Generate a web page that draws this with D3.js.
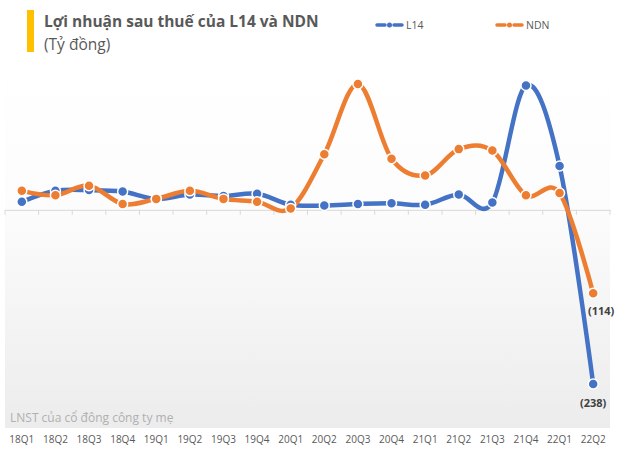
<!DOCTYPE html>
<html><head><meta charset="utf-8">
<script src="https://cdn.jsdelivr.net/npm/d3@7"></script>
<style>body{margin:0;background:#fff}svg{display:block}</style>
</head><body>
<svg id="c" width="630" height="468"></svg>
<script>
const categories = ["18Q1","18Q2","18Q3","18Q4","19Q1","19Q2","19Q3","19Q4","20Q1","20Q2","20Q3","20Q4","21Q1","21Q2","21Q3","21Q4","22Q1","22Q2"];
const l14 = [11,26,27,25,15,21,19,22,7,6,8,9,7,21,10,170,60,-238];
const ndn = [26,20,33,8,15,26,15,11,2,76,172,70,47,83,81,20,23,-114];
const seriesNames = ["L14","NDN"];
const colors = ["#4472C4","#ED7D31"];

const svg = d3.select("#c");
const W=630,H=468;
const plot = {left:5,right:610,top:60,bottom:428};

const defs = svg.append("defs");
const g = defs.append("linearGradient").attr("id","bg").attr("x1",0).attr("y1",0).attr("x2",0).attr("y2",1);
g.append("stop").attr("offset","0%").attr("stop-color","#ffffff");
g.append("stop").attr("offset","40%").attr("stop-color","#fcfcfc");
g.append("stop").attr("offset","100%").attr("stop-color","#ececec");
svg.append("rect").attr("x",plot.left).attr("y",plot.top).attr("width",plot.right-plot.left).attr("height",plot.bottom-plot.top).attr("fill","url(#bg)");

const x = d3.scaleBand().domain(categories).range([plot.left,plot.right]).padding(0);
const y = d3.scaleLinear().domain([-238,172]).range([384,84]);

// zero axis
const axis = d3.axisBottom(x).tickSize(0).tickFormat("");
const ax = svg.append("g").attr("transform",`translate(0,${y(0)})`).call(axis);
ax.select(".domain").attr("stroke","#d9d9d9");
const bounds = categories.map(c=>x(c)).concat([plot.right]);
svg.append("g").selectAll("line").data(bounds).join("line")
  .attr("x1",d=>d).attr("x2",d=>d).attr("y1",y(0)).attr("y2",y(0)+5)
  .attr("stroke","#d9d9d9").attr("stroke-width",1);

// x labels
const xl = d3.axisBottom(x).tickSize(0).tickPadding(0);
const xg = svg.append("g").attr("transform","translate(0,436)").call(xl);
xg.select(".domain").remove();
xg.selectAll("text").attr("font-family","'Open Sans', sans-serif").attr("font-size",10).attr("fill","#595959");

// note
svg.append("text").attr("x",10).attr("y",422).text("LNST của cổ đông công ty mẹ")
  .attr("font-family","'Open Sans', sans-serif").attr("font-size",12).attr("fill","#b0b0b0");

const line = d3.line().x((d,i)=>x(categories[i])+x.bandwidth()/2).y(d=>y(d)).curve(d3.curveCardinal.tension(0));
[l14, ndn].forEach((data,k)=>{
  svg.append("path").datum(data).attr("d",line).attr("fill","none")
    .attr("stroke",colors[k]).attr("stroke-width",4.5).attr("stroke-linecap","round");
});
[l14, ndn].forEach((data,k)=>{
  svg.append("g").selectAll("circle").data(data).join("circle")
    .attr("cx",(d,i)=>x(categories[i])+x.bandwidth()/2).attr("cy",d=>y(d)).attr("r",5)
    .attr("fill",colors[k]).attr("stroke","#fff").attr("stroke-width",1.5);
});

// data labels
const last = categories.length-1;
svg.append("text").attr("x",x(categories[last])+x.bandwidth()/2+8).attr("y",y(ndn[last])+22)
  .attr("text-anchor","middle").text("(114)").attr("font-family","'Open Sans', sans-serif").attr("font-weight","bold").attr("font-size",11).attr("fill","#404040");
svg.append("text").attr("x",x(categories[last])+x.bandwidth()/2).attr("y",y(l14[last])+23)
  .attr("text-anchor","middle").text("(238)").attr("font-family","'Open Sans', sans-serif").attr("font-weight","bold").attr("font-size",11).attr("fill","#404040");

// title
svg.append("rect").attr("x",27).attr("y",10).attr("width",7).attr("height",42).attr("fill","#FFC000");
svg.append("text").attr("x",44).attr("y",27).text("Lợi nhuận sau thuế của L14 và NDN")
  .attr("font-family","'Open Sans', sans-serif").attr("font-weight","bold").attr("font-size",15.5).attr("fill","#595959");
svg.append("text").attr("x",44).attr("y",50).text("(Tỷ đồng)")
  .attr("font-family","'Open Sans', sans-serif").attr("font-size",15.5).attr("fill","#595959");

// legend
const lx=[377,497];
seriesNames.forEach((n,k)=>{
  const lg = svg.append("g").attr("transform",`translate(${lx[k]},25)`);
  lg.append("line").attr("x1",0).attr("x2",8).attr("stroke",colors[k]).attr("stroke-width",3.5).attr("stroke-linecap","round");
  lg.append("line").attr("x1",17).attr("x2",25).attr("stroke",colors[k]).attr("stroke-width",3.5).attr("stroke-linecap","round");
  lg.append("circle").attr("cx",12.5).attr("r",2.5).attr("fill",colors[k]);
  lg.append("text").attr("x",29).attr("y",4).text(n).attr("font-family","'Open Sans', sans-serif").attr("font-size",10.5).attr("fill","#595959");
});
</script>
</body></html>
